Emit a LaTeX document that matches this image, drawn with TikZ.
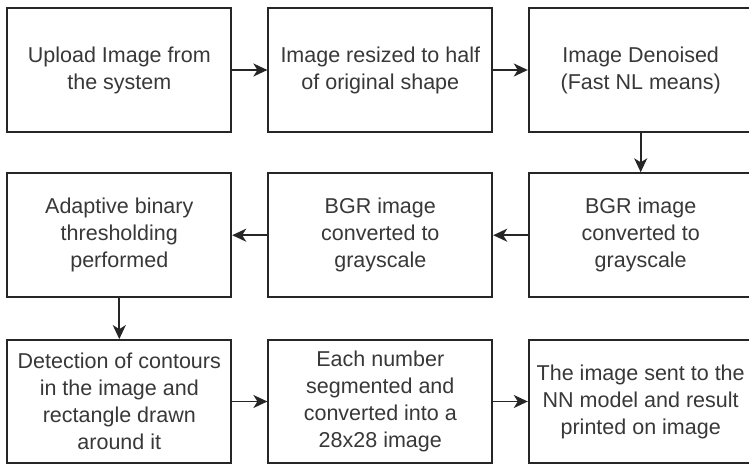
\documentclass[tikz,border=0pt]{standalone}
\usepackage{fontspec}
\setmainfont{Liberation Sans}
\usetikzlibrary{arrows.meta}
\definecolor{edge}{HTML}{262626}
\definecolor{txt}{HTML}{383838}
\begin{document}
\begin{tikzpicture}[x=1pt,y=-1pt,
  stepbox/.style={draw=edge, line width=1.8pt, fill=white, minimum width=224pt, minimum height=124pt,
    inner sep=0pt, align=center, text=txt, font=\fontsize{21.5pt}{27pt}\selectfont},
  conn/.style={draw=edge, line width=1.8pt, -{Stealth[length=14pt,width=13pt,inset=4pt]}}]
\useasboundingbox (0,0) rectangle (749,465);
\node[stepbox] (a) at (119.3,70) {Upload Image from\\the system};
\node[stepbox] (b) at (380.3,70) {Image resized to half\\of original shape};
\node[stepbox] (c) at (640.7,70) {Image Denoised\\(Fast NL means)};
\node[stepbox] (d) at (640.7,235.2) {BGR image\\converted to\\grayscale};
\node[stepbox] (e) at (380.3,235.2) {BGR image\\converted to\\grayscale};
\node[stepbox] (f) at (119.3,235.2) {Adaptive binary\\thresholding\\performed};
\node[stepbox, minimum height=123pt] (g) at (119.3,401.5) {Detection of contours\\in the image and\\rectangle drawn\\around it};
\node[stepbox, minimum height=123pt] (h) at (380.3,401.5) {Each number\\segmented and\\converted into a\\28x28 image};
\node[stepbox, minimum height=123pt] (i) at (640.7,401.5) {The image sent to the\\NN model and result\\printed on image};
\draw[conn] (a) -- (b);
\draw[conn] (b) -- (c);
\draw[conn] (c) -- (d);
\draw[conn] (d) -- (e);
\draw[conn] (e) -- (f);
\draw[conn] (f) -- (g);
\draw[conn] (g) -- (h);
\draw[conn] (h) -- (i);
\end{tikzpicture}
\end{document}
